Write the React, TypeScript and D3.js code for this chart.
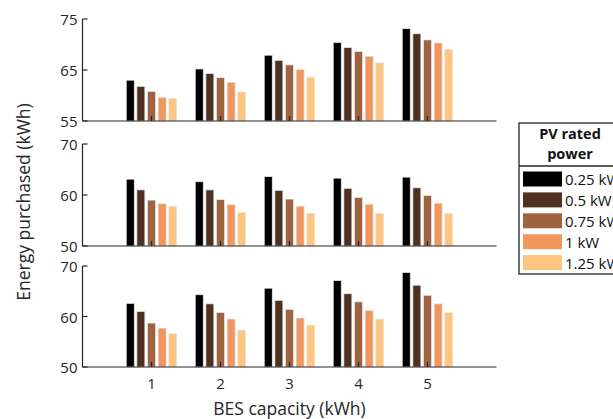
import React from 'react';
import * as d3 from 'd3';

const capacities = [1, 2, 3, 4, 5];
const seriesNames = ['0.25 kW', '0.5 kW', '0.75 kW', '1 kW', '1.25 kW'];
const colors = ['#000000', '#4f3121', '#a0633f', '#f0965f', '#fec580'];

// values per panel: rows = BES capacity, columns = PV rated power
const top = [
  [63.0, 61.8, 60.8, 59.6, 59.4],
  [65.2, 64.3, 63.5, 62.6, 60.7],
  [67.9, 66.9, 66.0, 65.1, 63.6],
  [70.4, 69.4, 68.6, 67.7, 66.4],
  [73.1, 72.1, 70.9, 70.3, 69.0],
];
const middle = [
  [63.1, 61.0, 59.0, 58.3, 57.8],
  [62.6, 61.0, 59.1, 58.1, 56.6],
  [63.6, 60.9, 59.2, 57.8, 56.4],
  [63.3, 61.3, 59.5, 58.2, 56.4],
  [63.5, 61.4, 59.9, 58.4, 56.4],
];
const bottom = [
  [62.6, 61.0, 58.7, 57.7, 56.6],
  [64.3, 62.5, 60.8, 59.5, 57.3],
  [65.6, 63.2, 61.4, 59.7, 58.3],
  [67.1, 64.5, 62.9, 61.2, 59.5],
  [68.7, 66.2, 64.2, 62.5, 60.8],
];
const topTicks = [55, 65, 75];
const lowerTicks = [50, 60, 70];

const font = '"Open Sans", sans-serif';
const ink = '#262626';

const panels = [
  { data: top, ticks: topTicks, y0: 121, y1: 19 },
  { data: middle, ticks: lowerTicks, y0: 246, y1: 144 },
  { data: bottom, ticks: lowerTicks, y0: 367, y1: 266 },
];

const x = d3.scaleLinear().domain([0, 6]).range([82.5, 496.5]);
const groupW = (x(1) - x(0)) * 0.77;
const inner = d3.scaleBand<string>()
  .domain(seriesNames)
  .range([-groupW / 2, groupW / 2])
  .paddingInner(0.25)
  .paddingOuter(0.125);

const App = () => {
  return (
    <svg width={613} height={419} style={{ position: 'absolute', left: 0, top: 0, background: '#fff' }}>
      {panels.map((p, pi) => {
        const y = d3.scaleLinear().domain([p.ticks[0], p.ticks[p.ticks.length - 1]]).range([p.y0, p.y1]);
        return (
          <g key={pi}>
            {p.data.map((row, ci) => row.map((v, si) => (
              <rect key={ci + '-' + si}
                x={x(capacities[ci]) + (inner(seriesNames[si]) as number)}
                width={inner.bandwidth()}
                y={y(v)}
                height={y(p.ticks[0]) - y(v)}
                fill={colors[si]}
                stroke="#e8e8e8" strokeWidth={0.7} />
            )))}
            <line x1={x(0)} x2={x(0)} y1={y.range()[0]} y2={y.range()[1]} stroke={ink} strokeWidth={1.2} />
            <line x1={x(0)} x2={x(6)} y1={y.range()[0]} y2={y.range()[0]} stroke={ink} strokeWidth={1.2} />
            {p.ticks.map(t => (
              <g key={t}>
                <line x1={x(0)} x2={x(0) + 5} y1={y(t)} y2={y(t)} stroke={ink} strokeWidth={1.2} />
                <text x={x(0) - 5} y={y(t)} textAnchor="end" dominantBaseline="central"
                  fontFamily={font} fontSize={15} fill={ink}>{t}</text>
              </g>
            ))}
            {capacities.map(c => (
              <line key={c} x1={x(c)} x2={x(c)} y1={y.range()[0]} y2={y.range()[0] - 5} stroke={ink} strokeWidth={1.2} />
            ))}
            {pi === panels.length - 1 && capacities.map(c => (
              <text key={'l' + c} x={x(c)} y={y.range()[0] + 16} textAnchor="middle" dominantBaseline="central"
                fontFamily={font} fontSize={15} fill={ink}>{c}</text>
            ))}
          </g>
        );
      })}
      <text x={x(3)} y={408} textAnchor="middle" dominantBaseline="central"
        fontFamily={font} fontSize={17.5} fill={ink}>BES capacity (kWh)</text>
      <text transform="translate(23,202) rotate(-90)" textAnchor="middle" dominantBaseline="central"
        fontFamily={font} fontSize={17.5} fill={ink}>Energy purchased (kWh)</text>

      <g>
        <rect x={519} y={123} width={110} height={151} fill="#fff" stroke={ink} strokeWidth={1.3} />
        <line x1={519} x2={629} y1={166} y2={166} stroke={ink} strokeWidth={1.3} />
        <text x={570} y={133} textAnchor="middle" dominantBaseline="central" fontFamily={font}
          fontSize={14.5} fontWeight="bold" fill="#111">PV rated</text>
        <text x={570} y={153} textAnchor="middle" dominantBaseline="central" fontFamily={font}
          fontSize={14.5} fontWeight="bold" fill="#111">power</text>
        {seriesNames.map((s, i) => {
          const cy = 179 + i * 20.9;
          return (
            <g key={s}>
              <rect x={523} y={cy - 7.5} width={39} height={15} fill={colors[i]} />
              <text x={565} y={cy} dominantBaseline="central" fontFamily={font} fontSize={15} fill="#111">{s}</text>
            </g>
          );
        })}
      </g>
    </svg>
  );
};

export default App;
